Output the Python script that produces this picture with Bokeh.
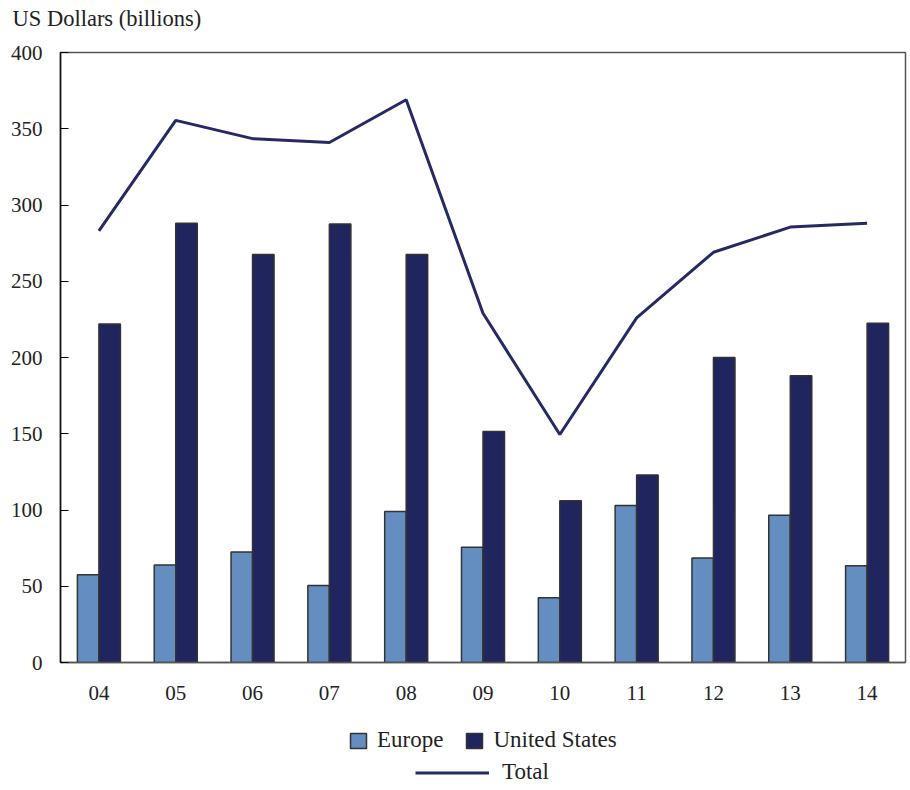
from bokeh.plotting import figure
from bokeh.layouts import column
from bokeh.models import ColumnDataSource, Legend, LegendItem, Range1d, FixedTicker, BoxAnnotation
from bokeh.transform import dodge
from bokeh.embed import file_html
from bokeh.resources import INLINE

years = ["04", "05", "06", "07", "08", "09", "10", "11", "12", "13", "14"]
europe = [57.5, 64, 72.5, 50.5, 99, 75.5, 42.5, 103, 68.5, 96.5, 63.5]
united_states = [222, 288, 267.5, 287.5, 267.5, 151.5, 106, 123, 200, 188, 222.5]
total = [283, 355.5, 343.5, 341, 369, 229, 149.5, 226, 269, 285.5, 288]
y_ticks = [0, 50, 100, 150, 200, 250, 300, 350, 400]

FONT = "Liberation Serif"
EU_COL = "#648DC0"
US_COL = "#20255E"
LINE_COL = "#252A63"
TXT = "#222222"

src = ColumnDataSource(dict(year=years, europe=europe, us=united_states, total=total))

# title strip
tp = figure(width=909, height=42, x_range=years, y_range=Range1d(0, 1),
            x_axis_type=None, y_axis_type=None, min_border=0,
            output_backend="svg", toolbar_location=None,
            title="US Dollars (billions)")
tp.outline_line_color = None
tp.xgrid.grid_line_color = None
tp.ygrid.grid_line_color = None
tp.title.text_font = FONT
tp.title.text_font_size = "22.5px"
tp.title.text_font_style = "normal"
tp.title.text_color = TXT
tp.title.align = "left"
tp.title.offset = -48
tp.title.standoff = 6

p = figure(x_range=years, y_range=Range1d(0, 400),
           frame_width=845, frame_height=610,
           min_border_left=60, min_border_right=4, min_border_top=10, min_border_bottom=50,
           output_backend="svg", toolbar_location=None)

bar_style = dict(width=0.28, source=src, line_color="#333333", line_width=1.5)
p.vbar(x=dodge("year", -0.14, range=p.x_range), top="europe", fill_color=EU_COL, **bar_style)
p.vbar(x=dodge("year", 0.14, range=p.x_range), top="us", fill_color=US_COL, **bar_style)
p.line(x="year", y="total", source=src, line_color=LINE_COL, line_width=3)

p.xgrid.grid_line_color = None
p.ygrid.grid_line_color = None
p.outline_line_color = "#555555"
p.outline_line_width = 1.5

p.yaxis.ticker = FixedTicker(ticks=y_ticks)
p.yaxis.major_tick_in = 8
p.yaxis.major_tick_out = 0
p.yaxis.minor_tick_line_color = None
p.yaxis.axis_line_color = "#111111"
p.yaxis.axis_line_width = 1.5
p.yaxis.major_tick_line_width = 1.2
p.yaxis.major_label_standoff = 18
p.yaxis.major_label_text_font = FONT
p.yaxis.major_label_text_font_size = "21px"
p.yaxis.major_label_text_color = TXT

p.xaxis.major_tick_line_color = None
p.xaxis.axis_line_color = "#555555"
p.xaxis.axis_line_width = 1.5
p.xaxis.major_label_standoff = 17
p.xaxis.major_label_text_font = FONT
p.xaxis.major_label_text_font_size = "21px"
p.xaxis.major_label_text_color = TXT

# legend strip below the chart: same series drawn, then covered by a white box
lg = figure(width=909, height=76, x_range=years, y_range=Range1d(0, 400),
            x_axis_type=None, y_axis_type=None, min_border=0,
            output_backend="svg", toolbar_location=None)
lg.outline_line_color = None
lg.xgrid.grid_line_color = None
lg.ygrid.grid_line_color = None
g_eu = lg.vbar(x="year", top="europe", fill_color=EU_COL, **bar_style)
g_us = lg.vbar(x="year", top="us", fill_color=US_COL, **bar_style)
g_tot = lg.line(x="year", y="total", source=src, line_color=LINE_COL, line_width=3)
lg.add_layout(BoxAnnotation(fill_color="white", fill_alpha=1.0, line_color=None))

leg1 = Legend(items=[LegendItem(label="Europe", renderers=[g_eu]),
                     LegendItem(label="United States", renderers=[g_us])],
              orientation="horizontal", location=(288, 35),
              glyph_width=20, glyph_height=19, spacing=21, label_standoff=9,
              label_text_font=FONT, label_text_font_size="23px", label_text_color=TXT,
              border_line_color=None, background_fill_alpha=0,
              padding=0, margin=0, label_height=19)
leg2 = Legend(items=[LegendItem(label="Total", renderers=[g_tot])],
              orientation="horizontal", location=(355, 3),
              glyph_width=74, glyph_height=19, label_standoff=13,
              label_text_font=FONT, label_text_font_size="23px", label_text_color=TXT,
              border_line_color=None, background_fill_alpha=0,
              padding=0, margin=0, label_height=19)
lg.add_layout(leg1, "center")
lg.add_layout(leg2, "center")

layout = column(tp, p, lg, spacing=0)
open("out.html", "w").write(file_html(layout, INLINE))
